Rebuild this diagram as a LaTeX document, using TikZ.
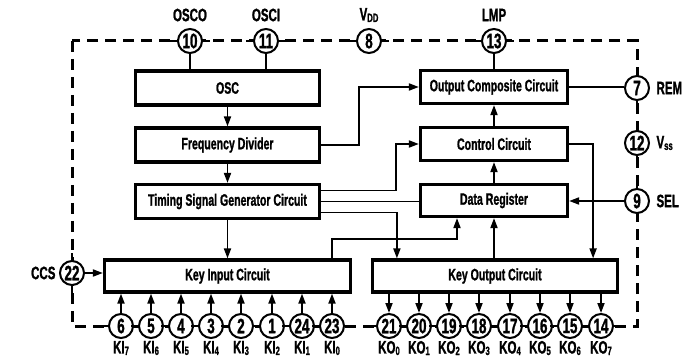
\documentclass[tikz,border=0pt]{standalone}
\usepackage{fontspec}
\setmainfont{Liberation Sans}[FakeStretch=0.64, BoldFeatures={FakeBold=1.2}]
\usetikzlibrary{arrows.meta,calc}

\newcommand\lo[1]{\raisebox{-1.5pt}{\fontsize{12}{12}\selectfont #1}}

\begin{document}
\begin{tikzpicture}[
  x=1pt, y=-1pt,
  font=\bfseries\fontsize{16.5}{16.5}\selectfont,
  >={Triangle[length=10pt,width=7pt]},
  blk/.style={draw, line width=3.2pt, inner sep=0pt, minimum height=34pt},
  pin/.style={draw, circle, line width=2pt, fill=white, minimum size=24pt, inner sep=0pt, font=\bfseries\fontsize{21}{21}\selectfont},
  wire/.style={line width=1.8pt},
  stub/.style={line width=2.2pt},
  frame/.style={line width=3pt, dash pattern=on 11pt off 7pt},
  lbl/.style={font=\bfseries\fontsize{18}{18}\selectfont}
]
\useasboundingbox (0,0) rectangle (690,363);

% package outline
\draw[frame] (72,41) rectangle (637,326);

% blocks
\node[blk, minimum width=184pt, minimum height=34pt] (osc) at (227.5,88) {OSC};
\node[blk, minimum width=184pt, minimum height=34pt] (fdiv) at (227.5,145) {Frequency Divider};
\node[blk, minimum width=184pt, minimum height=34pt] (tsg) at (227.5,201.5) {Timing Signal Generator Circuit};
\node[blk, minimum width=246pt, minimum height=32pt] (kin) at (227.5,276) {Key Input Circuit};
\node[blk, minimum width=245pt, minimum height=32pt] (kout) at (495,276) {Key Output Circuit};
\node[blk, minimum width=147pt, minimum height=33pt] (ocomp) at (494,87) {Output Composite Circuit};
\node[blk, minimum width=147pt, minimum height=33pt] (ctrl) at (494,144) {Control Circuit};
\node[blk, minimum width=147pt, minimum height=32pt] (dreg) at (494,200.5) {Data Register};

% pins on top
\foreach \n/\x/\t in {10/190/OSCO, 11/266/OSCI, 8/369/{V\lo{DD}}, 13/494/LMP} {
  \draw[stub] (\x-20,41) -- (\x+20,41);
  \node[pin] (p\n) at (\x,41) {\n};
  \node[lbl] (t\n) at (\x,15) {\t};
}

% pins on the right
\foreach \n/\y/\t in {7/88/REM, 12/143/{V\lo{ss}}, 9/201/SEL} {
  \draw[stub] (637,\y-20) -- (637,\y+20);
  \node[pin] (p\n) at (637,\y) {\n};
  \node[lbl, anchor=west] (t\n) at (653,\y) {\t};
}

% pin on the left
\draw[stub] (72,253) -- (72,293);
\node[pin] (p22) at (72,273) {22};
\node[lbl, anchor=east] (t22) at (59,273) {CCS};

% key inputs
\foreach \n/\x/\k in {6/121/7, 5/151/6, 4/181/5, 3/211/4, 2/241/3, 1/272/2, 24/302/1, 23/332/0} {
  \draw[stub] (\x-20,326) -- (\x+20,326);
  \node[pin] (p\n) at (\x,326) {\n};
  \node[lbl] (t\n) at (\x,348) {KI\lo{\k}};
  \draw[wire,->] (p\n) -- (p\n |- kin.south);
}

% key outputs
\foreach \n/\x/\k in {21/389/0, 20/419/1, 19/449/2, 18/479/3, 17/510/4, 16/540/5, 15/570/6, 14/601/7} {
  \draw[stub] (\x-20,326) -- (\x+20,326);
  \node[pin] (p\n) at (\x,326) {\n};
  \node[lbl] (t\n) at (\x,348) {KO\lo{\k}};
  \draw[wire,->] (p\n |- kout.south) -- (p\n);
}

% connections
\draw[wire] (p10) -- (p10 |- osc.north);
\draw[wire] (p11) -- (p11 |- osc.north);
\draw[wire,->] (osc) -- (fdiv);
\draw[wire,->] (fdiv) -- (tsg);
\draw[wire,->] (tsg) -- (kin);
\draw[wire,->] (fdiv.east) -- ++(38,0) |- (ocomp.west);
\draw[wire,->] ([yshift=11pt]tsg.east) -| ($(ctrl.west)+(-23,0)$) -- (ctrl.west);
\draw[wire] (tsg.east) -- (tsg.east -| dreg.west);
\draw[wire,->] ([yshift=-11pt]tsg.east) -| ([xshift=26pt]kout.north west);
\draw[wire,->] ([xshift=-20pt]kin.north east) -- ++(0,-19) -| ([xshift=-37pt]dreg.south);
\draw[wire,->] (kout.north -| dreg.south) -- (dreg.south);
\draw[wire,->] (dreg) -- (ctrl);
\draw[wire,->] (ctrl) -- (ocomp);
\draw[wire] (p13) -- (ocomp.north);
\draw[wire] (ocomp.east) -- (ocomp.east -| p7.west);
\draw[wire,->] (ctrl.east) -| ([xshift=-26pt]kout.north east);
\draw[wire,->] (p9.west) -- (p9.west -| dreg.east);
\draw[wire,->] (p22.east) -- (p22.east -| kin.west);

\end{tikzpicture}
\end{document}
